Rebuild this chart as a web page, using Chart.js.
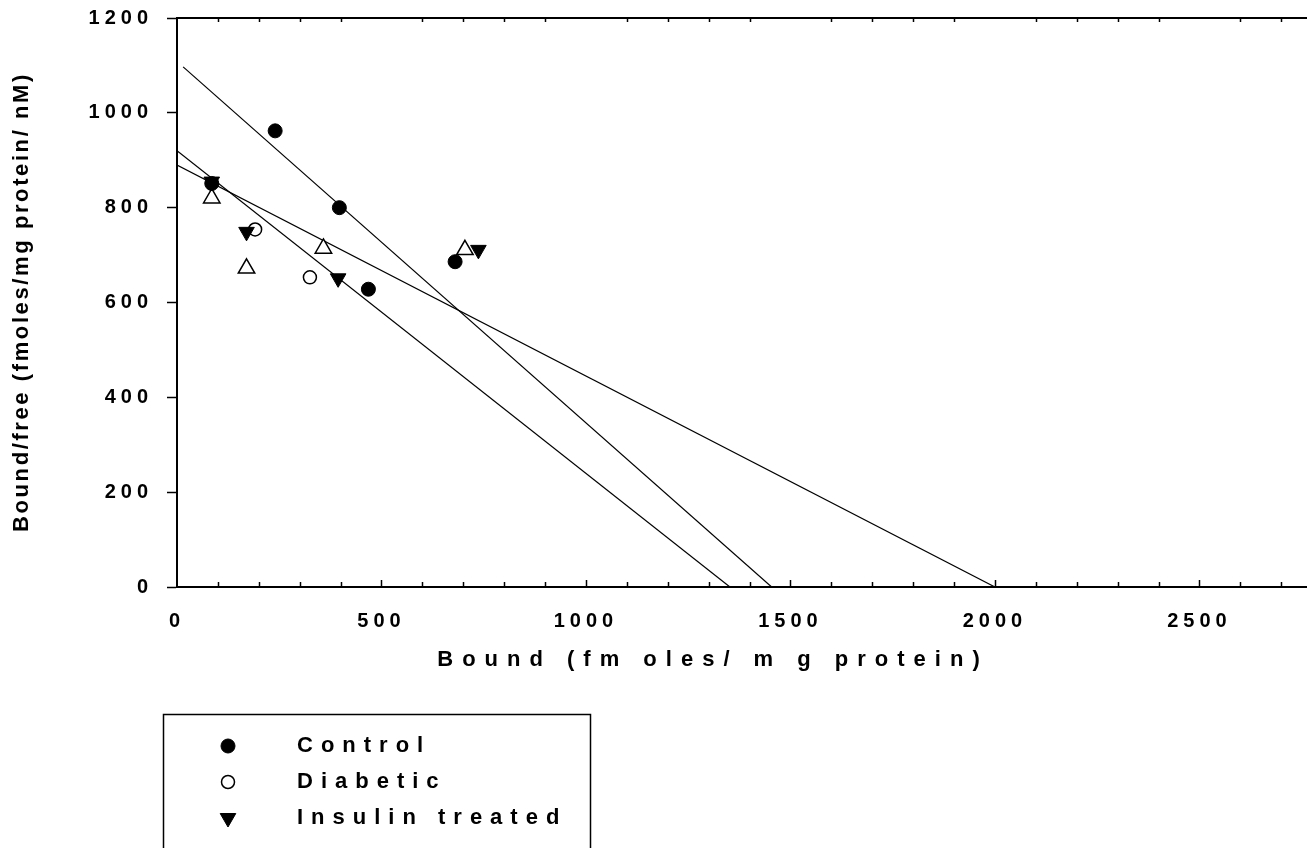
<!DOCTYPE html>
<html>
<head>
<meta charset="utf-8">
<script src="https://cdn.jsdelivr.net/npm/chart.js@4/dist/chart.umd.min.js"></script>
<style>
html, body { margin: 0; padding: 0; background: #fff; }
</style>
</head>
<body>
<canvas id="scatchard" width="1307" height="848"></canvas>
<script>
// points
const controlX = [240, 397, 468, 680, 85];
const controlY = [962, 800, 628, 686, 851];
const diabeticX = [191, 325];
const diabeticY = [754, 653];
const insulinX = [85, 170, 394, 737];
const insulinY = [855, 749, 651, 711];
const openTriX = [85, 170, 358, 704];
const openTriY = [820, 672, 714, 711];

// fitted lines, start and end
const fit1X = [15, 1454];
const fit1Y = [1097, 0];
const fit2X = [0, 1352];
const fit2Y = [920, 0];
const fit3X = [0, 2000];
const fit3Y = [890, 0];

const xLabels = [0, 500, 1000, 1500, 2000, 2500];
const yLabels = [0, 200, 400, 600, 800, 1000, 1200];

const FONT = '"Liberation Sans", Arial, sans-serif';

function toPoints(xs, ys) {
    return xs.map((x, i) => ({ x: x, y: ys[i] }));
}

function fitLine(xs, ys) {
    return {
        data: toPoints(xs, ys),
        showLine: true,
        borderColor: '#000',
        borderWidth: 1.2,
        pointRadius: 0,
        inLegend: false,
        order: 10
    };
}

const datasets = [
    {
        label: 'Control',
        data: toPoints(controlX, controlY),
        pointStyle: 'circle',
        pointRadius: 7,
        backgroundColor: '#000',
        borderColor: '#000',
        borderWidth: 1,
        inLegend: true,
        order: 2
    },
    {
        label: 'Diabetic',
        data: toPoints(diabeticX, diabeticY),
        pointStyle: 'circle',
        pointRadius: 6.5,
        backgroundColor: '#fff',
        borderColor: '#000',
        borderWidth: 1.5,
        inLegend: true,
        order: 3
    },
    {
        label: 'Insulin treated',
        data: toPoints(insulinX, insulinY),
        pointStyle: 'triangle',
        rotation: 180,
        pointRadius: 9,
        backgroundColor: '#000',
        borderColor: '#000',
        borderWidth: 1,
        inLegend: true,
        order: 1
    },
    {
        label: 'Series 4',
        data: toPoints(openTriX, openTriY),
        pointStyle: 'triangle',
        pointRadius: 9.5,
        backgroundColor: '#fff',
        borderColor: '#000',
        borderWidth: 1.5,
        inLegend: false,
        order: 4
    },
    fitLine(fit1X, fit1Y),
    fitLine(fit2X, fit2Y),
    fitLine(fit3X, fit3Y)
];

// spaced-out bold text like the original bitmap
const spacing = {
    id: 'spacing',
    beforeDraw(chart) {
        chart.ctx.letterSpacing = '5px';
    }
};

const frame = {
    id: 'frame',
    afterDraw(chart) {
        const ctx = chart.ctx;
        const area = chart.chartArea;
        const xs = chart.scales.x;
        ctx.save();
        ctx.strokeStyle = '#000';
        ctx.lineWidth = 2;
        ctx.beginPath();
        ctx.moveTo(area.left, area.top);
        ctx.lineTo(area.right, area.top);
        ctx.stroke();

        ctx.lineWidth = 1.5;
        xs.ticks.forEach(t => {
            if (t.value === 0) return;
            const px = Math.round(xs.getPixelForValue(t.value)) + 0.5;
            const major = t.value % 500 === 0;
            ctx.beginPath();
            ctx.moveTo(px, area.bottom);
            ctx.lineTo(px, area.bottom - (major ? 7 : 5));
            ctx.stroke();
            if (!major) {
                ctx.beginPath();
                ctx.moveTo(px, area.top);
                ctx.lineTo(px, area.top + 4);
                ctx.stroke();
            }
        });

        // axis titles
        ctx.fillStyle = '#000';
        ctx.textAlign = 'center';
        ctx.textBaseline = 'middle';
        ctx.font = 'bold 22px ' + FONT;
        ctx.letterSpacing = '9px';
        ctx.fillText('Bound (fm oles/ m g protein)', 713, 660);

        ctx.letterSpacing = '2.6px';
        ctx.translate(22, 302);
        ctx.rotate(-Math.PI / 2);
        ctx.fillText('Bound/free (fmoles/mg protein/ nM)', 0, 0);
        ctx.restore();
    }
};

const boxLegend = {
    id: 'boxLegend',
    afterDraw(chart) {
        const ctx = chart.ctx;
        ctx.save();
        ctx.strokeStyle = '#000';
        ctx.lineWidth = 1.5;
        ctx.strokeRect(163.5, 714.5, 427, 200);

        const rows = chart.data.datasets.filter(d => d.inLegend);
        ctx.font = 'bold 22px ' + FONT;
        ctx.letterSpacing = '8px';
        ctx.textAlign = 'left';
        ctx.textBaseline = 'middle';
        rows.forEach((d, i) => {
            const y = 746 + i * 36;
            ctx.fillStyle = d.backgroundColor;
            ctx.strokeStyle = d.borderColor;
            ctx.lineWidth = d.borderWidth;
            Chart.helpers.drawPoint(ctx, {
                pointStyle: d.pointStyle,
                rotation: d.rotation || 0,
                radius: d.pointRadius,
                borderWidth: d.borderWidth
            }, 228, y);
            ctx.fillStyle = '#000';
            ctx.fillText(d.label, 297, y);
        });
        ctx.restore();
    }
};

const tickFont = { family: FONT, size: 20, weight: 'bold' };

function noPadding(s) {
    s.paddingLeft = 0;
    s.paddingRight = 0;
    s.paddingTop = 0;
    s.paddingBottom = 0;
}

new Chart(document.getElementById('scatchard'), {
    type: 'scatter',
    data: { datasets: datasets },
    options: {
        responsive: false,
        animation: false,
        layout: { autoPadding: false, padding: { top: 18, right: 0, left: 0, bottom: 0 } },
        plugins: {
            legend: { display: false },
            tooltip: { enabled: false }
        },
        scales: {
            x: {
                type: 'linear',
                position: 'bottom',
                min: 0,
                max: 2763,
                grid: { display: false },
                border: { display: true, color: '#000', width: 2 },
                ticks: {
                    stepSize: 100,
                    includeBounds: false,
                    autoSkip: false,
                    maxRotation: 0,
                    padding: 14,
                    color: '#000',
                    font: tickFont,
                    callback: v => xLabels.includes(v) ? String(v) : ''
                },
                afterFit: s => { s.height = 261; noPadding(s); }
            },
            y: {
                type: 'linear',
                min: 0,
                max: 1200,
                grid: {
                    drawOnChartArea: false,
                    drawTicks: true,
                    tickLength: 10,
                    tickColor: '#000',
                    tickWidth: 1.5
                },
                border: { display: true, color: '#000', width: 2 },
                ticks: {
                    stepSize: 200,
                    padding: 14,
                    color: '#000',
                    font: tickFont,
                    callback: v => yLabels.includes(v) ? String(v) : ''
                },
                afterFit: s => { s.width = 177; noPadding(s); }
            }
        }
    },
    plugins: [spacing, frame, boxLegend]
});
</script>
</body>
</html>
